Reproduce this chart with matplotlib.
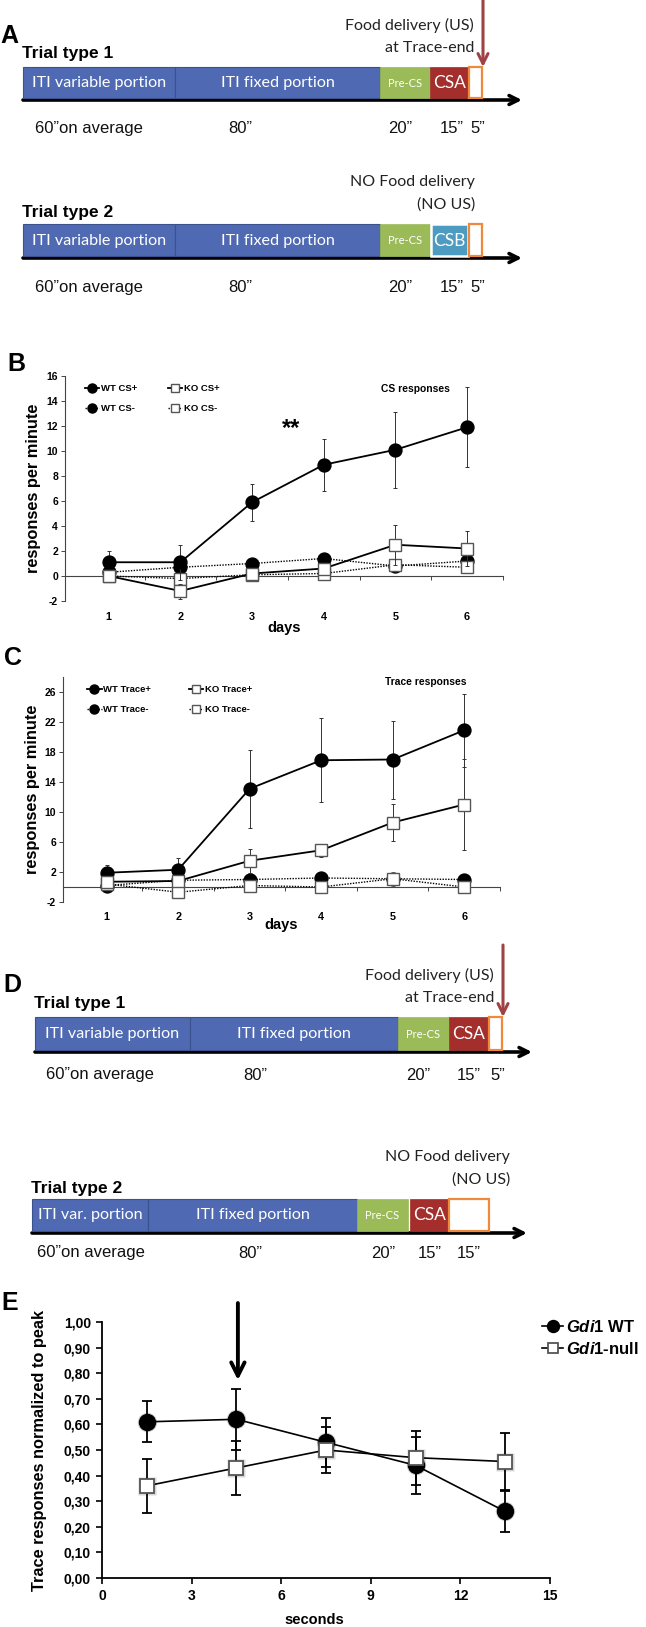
import matplotlib
matplotlib.use('Agg')
import matplotlib.pyplot as plt
from matplotlib.patches import Rectangle
from matplotlib.transforms import blended_transform_factory

W, H, DPI = 646, 1627, 100
plt.rcParams['font.family'] = ['Liberation Sans', 'DejaVu Sans']
plt.rcParams['mathtext.fontset'] = 'custom'
plt.rcParams['mathtext.rm'] = 'Liberation Sans:bold'
plt.rcParams['mathtext.bf'] = 'Liberation Sans:bold'
plt.rcParams['mathtext.it'] = 'Liberation Sans:italic:bold'

# ---------------- DATA ----------------
days = [1, 2, 3, 4, 5, 6]

# Panel B: CS responses
wt_cs_plus = [1.1, 1.1, 5.9, 8.9, 10.1, 11.9]
wt_cs_plus_err = [0.9, 1.4, 1.5, 2.1, 3.05, 3.2]
ko_cs_plus = [0.0, -1.2, 0.2, 0.6, 2.5, 2.2]
ko_cs_plus_err = [0.3, 0.6, 0.3, 0.4, 1.6, 1.4]
wt_cs_minus = [0.3, 0.7, 1.0, 1.4, 0.8, 1.2]
wt_cs_minus_err = [0.3, 0.3, 0.3, 0.3, 0.4, 0.3]
ko_cs_minus = [0.0, -0.2, 0.1, 0.2, 0.9, 0.7]
ko_cs_minus_err = [0.2, 0.3, 0.2, 0.2, 0.4, 0.3]

# Panel C: Trace responses
wt_tr_plus = [1.9, 2.3, 13.1, 16.9, 17.0, 20.9]
wt_tr_plus_err = [1.1, 1.6, 5.2, 5.6, 5.2, 4.9]
ko_tr_plus = [0.7, 0.8, 3.5, 4.9, 8.6, 11.0]
ko_tr_plus_err = [0.5, 0.6, 1.6, 0.9, 2.5, 6.1]
wt_tr_minus = [0.2, 0.9, 1.0, 1.2, 1.1, 1.0]
wt_tr_minus_err = [0.4, 0.4, 0.4, 0.4, 0.4, 0.4]
ko_tr_minus = [0.4, -0.7, 0.2, 0.0, 1.1, 0.0]
ko_tr_minus_err = [0.4, 0.4, 0.4, 0.4, 0.4, 0.4]

# Panel E: normalized trace responses
seconds = [1.5, 4.5, 7.5, 10.5, 13.5]
gdi_wt = [0.61, 0.62, 0.53, 0.44, 0.26]
gdi_wt_err = [0.08, 0.12, 0.095, 0.11, 0.08]
gdi_null = [0.36, 0.43, 0.50, 0.47, 0.455]
gdi_null_err = [0.105, 0.105, 0.09, 0.105, 0.11]
e_xticks = [0, 3, 6, 9, 12, 15]
e_yticks = [0.0, 0.1, 0.2, 0.3, 0.4, 0.5, 0.6, 0.7, 0.8, 0.9, 1.0]

# Legend / panel texts
legend_B = ['WT CS+', 'WT CS-', 'KO CS+', 'KO CS-']
legend_C = ['WT Trace+', 'WT Trace-', 'KO Trace+', 'KO Trace-']
legend_E = [r'$\mathit{Gdi1}$ WT', r'$\mathit{Gdi1}$-null']

# Timeline texts
trial_titles = ['Trial type 1', 'Trial type 2']
segA1 = ['ITI variable portion', 'ITI fixed portion', 'Pre-CS', 'CSA']
segA2 = ['ITI variable portion', 'ITI fixed portion', 'Pre-CS', 'CSB']
segD2 = ['ITI var. portion', 'ITI fixed portion', 'Pre-CS', 'CSA']
dur1 = ['60\u201don average', '80\u201d', '20\u201d', '15\u201d', '5\u201d']
dur2 = ['60\u201don average', '80\u201d', '20\u201d', '15\u201d', '15\u201d']
note_us = ['Food delivery (US)', 'at Trace-end']
note_nous = ['NO Food delivery', '(NO US)']

# ---------------- STYLE ----------------
BLUE = '#4F6AB2'
GREEN = '#9BBB59'
RED = '#A32E2C'
AQUA = '#4E9BC2'
ORANGE = '#F08A3A'
ARROWRED = '#9E4244'
SEGFONT = ['Lato', 'DejaVu Sans']

fig = plt.figure(figsize=(W / DPI, H / DPI), dpi=DPI)
ov = fig.add_axes([0, 0, 1, 1])
ov.set_xlim(0, W)
ov.set_ylim(H, 0)
ov.axis('off')


def px_axes(l, t, r, b):
    ax = fig.add_axes([l / W, 1 - b / H, (r - l) / W, (b - t) / H])
    ax.set_facecolor('none')
    return ax


def timeline(edges, y0, y1, texts, colors, sizes, trace, arrow_end, arrow_y,
             title, title_xy, durs, dur_pos, dur_y, notes, note_right, note_ys,
             seg_ec=None):
    for i, (t, c, s) in enumerate(zip(texts, colors, sizes)):
        x0, x1 = edges[i]
        if c == BLUE:
            ec, lw = '#3B528F', 0.8
        elif seg_ec and seg_ec[i] == 'white':
            ec, lw = 'white', 1.8
        else:
            ec, lw = c, 0.5
        ov.add_patch(Rectangle((x0, y0), x1 - x0, y1 - y0, fc=c, ec=ec, lw=lw, zorder=2))
        ov.text((x0 + x1) / 2, (y0 + y1) / 2 + 0.5, t, color='white', fontsize=s,
                ha='center', va='center', family=SEGFONT, zorder=3)
    ov.add_patch(Rectangle((trace[0], y0), trace[1] - trace[0], y1 - y0, fc='white',
                           ec=ORANGE, lw=1.6, zorder=3))
    ov.annotate('', xy=(arrow_end, arrow_y), xytext=(edges[0][0], arrow_y),
                arrowprops=dict(arrowstyle='->', lw=2.6, color='black',
                                mutation_scale=16, shrinkA=0, shrinkB=0), zorder=1)
    ov.text(title_xy[0], title_xy[1], title, fontsize=12.5, fontweight='bold',
            ha='left', va='center')
    for d, (x, ha) in zip(durs, dur_pos):
        ov.text(x, dur_y, d, fontsize=12, ha=ha, va='center', color='#111111')
    for n, yy in zip(notes, note_ys):
        ov.text(note_right, yy, n, fontsize=11.5, ha='right', va='center',
                family=SEGFONT, color='#222222')


seg_colors1 = [BLUE, BLUE, GREEN, RED]
seg_colors2 = [BLUE, BLUE, GREEN, AQUA]
seg_sizes = [11.6, 11.6, 8, 12.5]

# ---- Panel A ----
ov.text(9, 36, 'A', fontsize=18, fontweight='bold', ha='center', va='center')
timeline([(23, 175), (175, 380), (380, 430), (430, 469)], 67, 98, segA1, seg_colors1,
         seg_sizes, (469, 482), 522, 100, trial_titles[0], (22, 53), dur1,
         [(35, 'left'), (240, 'center'), (400, 'center'), (452, 'center'), (478, 'center')],
         128, note_us, 474, [25, 48])
ov.annotate('', xy=(483, 67), xytext=(483, 0),
            arrowprops=dict(arrowstyle='->', lw=2.2, color=ARROWRED, mutation_scale=18,
                            shrinkA=0, shrinkB=0), zorder=5)
timeline([(23, 175), (175, 380), (380, 430), (431, 468)], 224, 256, segA2, seg_colors2,
         seg_sizes, (469, 482), 522, 258, trial_titles[1], (22, 212), dur1,
         [(35, 'left'), (240, 'center'), (400, 'center'), (452, 'center'), (478, 'center')],
         287, note_nous, 475, [182, 205], seg_ec=[None, None, GREEN, 'white'])

# ---- Panel D ----
ov.text(12, 985, 'D', fontsize=18, fontweight='bold', ha='center', va='center')
timeline([(35, 190), (190, 398), (398, 449), (449, 489)], 1017, 1050, segA1, seg_colors1,
         seg_sizes, (489, 502), 532, 1052, trial_titles[0], (34, 1003), dur1,
         [(46, 'left'), (255, 'center'), (418, 'center'), (469, 'center'), (498, 'center')],
         1075, note_us, 494, [975, 998])
ov.annotate('', xy=(503, 1017), xytext=(503, 945),
            arrowprops=dict(arrowstyle='->', lw=2.2, color=ARROWRED, mutation_scale=18,
                            shrinkA=0, shrinkB=0), zorder=5)
timeline([(32, 148), (148, 357), (357, 408), (410, 449)], 1199, 1231, segD2, seg_colors1,
         seg_sizes, (449, 489), 527, 1233, trial_titles[1], (31, 1188), dur2,
         [(37, 'left'), (250, 'center'), (383, 'center'), (430, 'center'), (469, 'center')],
         1253, note_nous, 510, [1157, 1180])


# ---------------- line charts B & C ----------------
def line_panel(ax, ylim, yticks, series, legend_labels, legend_anchor, colspace,
               corner_text, corner_xy, ylabel_x, daylab_y, dayslab_y):
    ax.set_xlim(0.39, 6.49)
    ax.set_ylim(*ylim)
    for s in ['top', 'right']:
        ax.spines[s].set_visible(False)
    ax.spines['bottom'].set_position(('data', 0))
    for s in ['bottom', 'left']:
        ax.spines[s].set_color('#444444')
        ax.spines[s].set_linewidth(0.8)
    ax.set_xticks([1.5, 2.5, 3.5, 4.5, 5.5, 6.5])
    ax.set_xticklabels([])
    ax.set_yticks(yticks)
    ax.set_yticklabels([str(v) for v in yticks], fontsize=7.5, fontweight='bold')
    ax.tick_params(axis='both', direction='out', length=3, width=0.7, color='#444444', pad=2)
    handles = {}
    for key, vals, err, style in series:
        ls, mk, mfc, mec, ms, lw, z = style
        ax.errorbar(days, vals, yerr=err, fmt='none', ecolor='#333333',
                    elinewidth=0.7, capsize=1.6, capthick=0.7, zorder=z - 0.5)
        ln, = ax.plot(days, vals, linestyle=ls, marker=mk, mfc=mfc, mec=mec, ms=ms,
                      mew=1.0, color='black', lw=lw, zorder=z)
        handles[key] = ln
    order = ['wt+', 'wt-', 'ko+', 'ko-']
    ax.legend(handles=[handles[k] for k in order], labels=legend_labels, ncol=2,
              loc='upper left', bbox_to_anchor=legend_anchor, frameon=False,
              prop={'size': 6.8, 'weight': 'bold'}, handlelength=1.5, handletextpad=0.2,
              columnspacing=colspace, labelspacing=1.15, markerscale=0.7, borderpad=0)
    ax.text(corner_xy[0], corner_xy[1], corner_text, transform=ax.transAxes, fontsize=7.4,
            fontweight='bold', ha='center', va='center')
    ax.text(ylabel_x, 0.5, 'responses per minute', transform=ax.transAxes, rotation=90,
            fontsize=11.8, fontweight='bold', ha='center', va='center')
    tr = blended_transform_factory(ax.transData, ax.transAxes)
    for d in days:
        ax.text(d, daylab_y, str(d), transform=tr, fontsize=7.8, fontweight='bold',
                ha='center', va='center')
    ax.text(0.5, dayslab_y, 'days', transform=ax.transAxes, fontsize=10.5,
            fontweight='bold', ha='center', va='center')


sty_wt_plus = ('-', 'o', 'black', 'black', 9.3, 1.3, 6)
sty_wt_minus = ((0, (1, 1)), 'o', 'black', 'black', 9.3, 1.0, 4)
sty_ko_plus = ('-', 's', 'white', '#555555', 8, 1.3, 7)
sty_ko_minus = ((0, (1, 1)), 's', 'white', '#555555', 8, 1.0, 5)

axB = px_axes(65, 376, 503, 601)
line_panel(axB, (-2, 16), list(range(-2, 17, 2)),
           [('wt-', wt_cs_minus, wt_cs_minus_err, sty_wt_minus),
            ('ko-', ko_cs_minus, ko_cs_minus_err, sty_ko_minus),
            ('wt+', wt_cs_plus, wt_cs_plus_err, sty_wt_plus),
            ('ko+', ko_cs_plus, ko_cs_plus_err, sty_ko_plus)],
           legend_B, (0.035, 0.985), 3.2,
           'CS responses', (0.80, 0.942), -0.072, -0.071, -0.12)
axB.text(3.54, 11.8, '**', fontsize=17, fontweight='bold', ha='center', va='center')
ov.text(16, 364, 'B', fontsize=18, fontweight='bold', ha='center', va='center')

axC = px_axes(63, 677, 500, 902)
line_panel(axC, (-2, 28), [-2, 2, 6, 10, 14, 18, 22, 26],
           [('wt-', wt_tr_minus, wt_tr_minus_err, sty_wt_minus),
            ('ko-', ko_tr_minus, ko_tr_minus_err, sty_ko_minus),
            ('wt+', wt_tr_plus, wt_tr_plus_err, sty_wt_plus),
            ('ko+', ko_tr_plus, ko_tr_plus_err, sty_ko_plus)],
           legend_C, (0.045, 0.985), 4.0,
           'Trace responses', (0.83, 0.978), -0.07, -0.067, -0.102)
ov.text(13, 658, 'C', fontsize=18, fontweight='bold', ha='center', va='center')

# ---------------- Panel E ----------------
axE = px_axes(102, 1322, 550, 1578)
axE.set_xlim(0, 15)
axE.set_ylim(0, 1.0)
for s in ['top', 'right']:
    axE.spines[s].set_visible(False)
for s in ['bottom', 'left']:
    axE.spines[s].set_linewidth(1.3)
axE.set_xticks(e_xticks)
axE.set_xticklabels([str(v) for v in e_xticks], fontsize=10, fontweight='bold')
axE.set_yticks(e_yticks)
axE.set_yticklabels([('%.2f' % v).replace('.', ',') for v in e_yticks], fontsize=10,
                    fontweight='bold')
axE.tick_params(axis='both', direction='out', length=4, width=1.2, pad=4)

axE.errorbar(seconds, gdi_wt, yerr=gdi_wt_err, fmt='none', ecolor='black', elinewidth=1.3,
             capsize=3.5, capthick=1.3, zorder=2)
axE.plot(seconds, gdi_wt, linestyle='none', marker='o', ms=14, mfc='#00000030',
         mec='none', zorder=2.5)
lwt, = axE.plot(seconds, gdi_wt, '-o', color='black', lw=1.2, ms=11.5, mfc='black',
                mec='black', zorder=3)
axE.errorbar(seconds, gdi_null, yerr=gdi_null_err, fmt='none', ecolor='black',
             elinewidth=1.3, capsize=3.5, capthick=1.3, zorder=3.5)
axE.plot(seconds, gdi_null, linestyle='none', marker='s', ms=12.5, mfc='#00000028',
         mec='none', zorder=3.7)
lko, = axE.plot(seconds, gdi_null, '-s', color='black', lw=1.2, ms=10, mfc='white',
                mec='#555555', mew=1.3, zorder=4)
axE.annotate('', xy=(4.55, 0.773), xytext=(4.55, 1.074),
             arrowprops=dict(arrowstyle='->', lw=2.8, color='black', mutation_scale=24,
                             shrinkA=0, shrinkB=0), annotation_clip=False)
axE.legend(handles=[lwt, lko], labels=legend_E,
           loc='upper left', bbox_to_anchor=(0.963, 1.045), frameon=False,
           prop={'size': 12, 'weight': 'bold'}, handlelength=1.3, handletextpad=0.15,
           labelspacing=0.35, markerscale=0.75, borderpad=0)
axE.text(-0.14, 0.5, 'Trace responses normalized to peak', transform=axE.transAxes,
         rotation=90, fontsize=11.8, fontweight='bold', ha='center', va='center')
axE.text(0.475, -0.164, 'seconds', transform=axE.transAxes, fontsize=10.5,
         fontweight='bold', ha='center', va='center')
ov.text(10, 1303, 'E', fontsize=18, fontweight='bold', ha='center', va='center')

fig.savefig('out.png', dpi=DPI)
